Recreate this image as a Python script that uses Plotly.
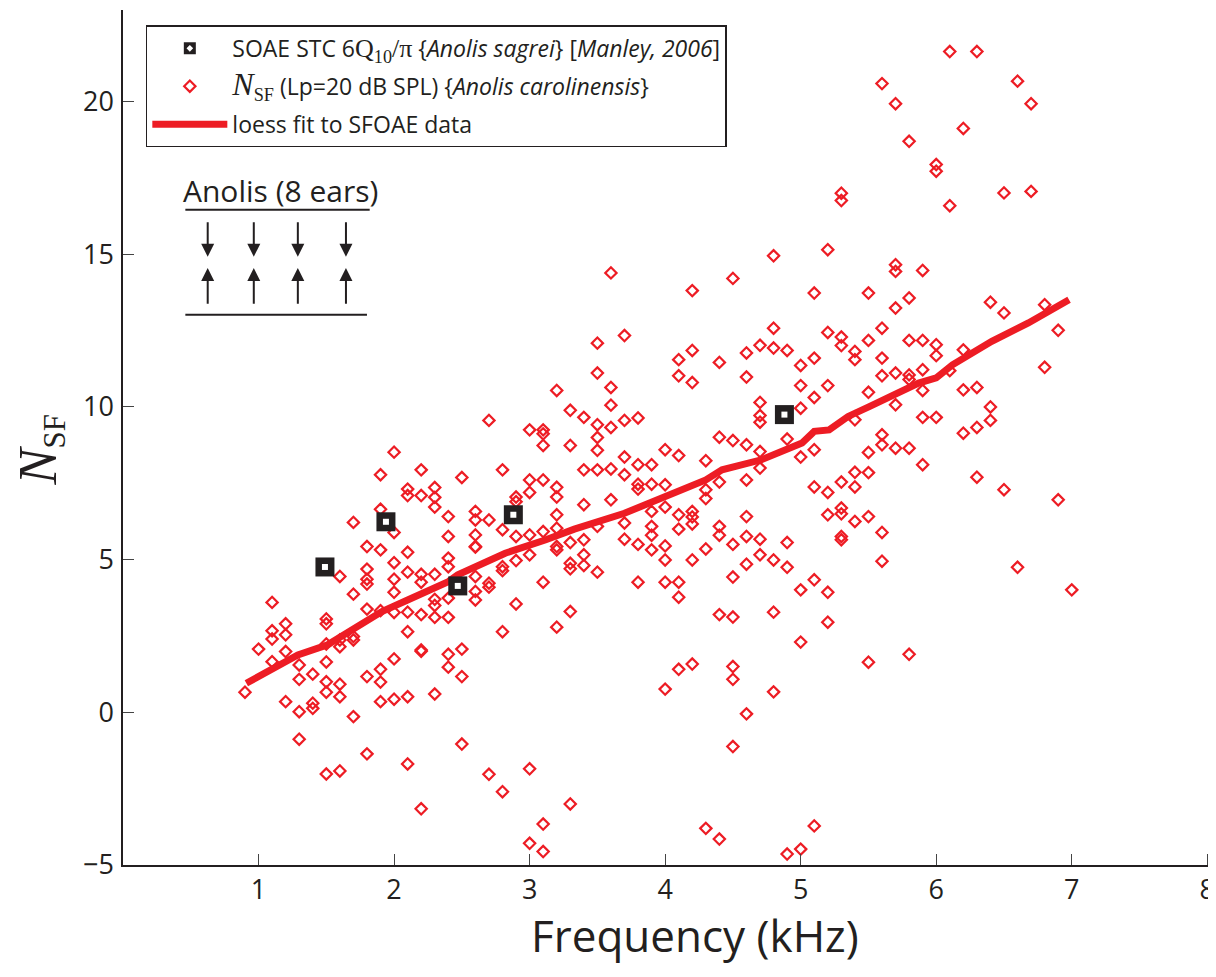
import plotly.graph_objects as go

# ---- SFOAE N_SF data (Anolis carolinensis), frequency in kHz ----
sf_cols = {
    0.9: [0.66],
    1.0: [2.07],
    1.1: [3.6, 2.67, 2.4, 1.66],
    1.2: [2.9, 2.54, 1.99, 0.35],
    1.3: [1.55, 1.08, 0.02, -0.88],
    1.4: [1.25, 0.3, 0.13],
    1.5: [3.06, 2.9, 2.24, 1.65, 1.0, 0.66, -2.02],
    1.6: [4.45, 2.37, 2.15, 0.92, 0.51, -1.92],
    1.7: [6.22, 3.87, 2.48, 2.37, -0.14],
    1.8: [5.43, 4.69, 4.36, 4.2, 3.38, 1.17, -1.36],
    1.9: [7.78, 6.65, 5.32, 3.33, 1.41, 0.99, 0.35],
    2.0: [8.52, 5.89, 4.9, 4.36, 3.93, 3.27, 1.75, 0.43],
    2.1: [7.31, 7.1, 5.24, 4.59, 3.28, 2.64, 0.51, -1.69],
    2.2: [7.94, 7.1, 4.52, 4.26, 3.2, 2.04, 2.0, -3.16],
    2.3: [7.36, 7.04, 6.72, 4.52, 3.7, 3.5, 3.11, 0.6],
    2.4: [6.41, 5.76, 5.05, 4.77, 3.74, 3.11, 1.9, 1.48],
    2.5: [7.69, 2.07, 1.17, -1.04],
    2.6: [6.58, 6.3, 5.81, 5.43, 5.41, 4.45, 3.96, 3.68],
    2.7: [9.56, 6.3, 4.23, 4.1, -2.03],
    2.8: [7.94, 5.98, 4.77, 4.64, 2.64, -2.6],
    2.9: [7.05, 6.9, 5.76, 4.97, 3.55],
    3.0: [9.25, 7.61, 7.2, 5.81, 5.16, -1.85, -4.29],
    3.1: [9.25, 9.12, 8.74, 7.61, 5.92, 4.26, -3.66, -4.56],
    3.2: [10.54, 7.37, 7.05, 6.47, 6.03, 5.43, 5.32, 2.79],
    3.3: [9.89, 8.74, 5.56, 4.88, 4.7, 3.3, -3.0],
    3.4: [9.66, 7.94, 6.8, 5.65, 5.16, 4.81],
    3.5: [12.09, 11.11, 9.42, 9.0, 8.58, 7.94, 6.09, 4.59],
    3.6: [14.39, 10.64, 10.06, 9.33, 7.97, 6.96],
    3.7: [12.34, 9.56, 8.36, 7.78, 6.2, 5.67],
    3.8: [9.64, 8.11, 7.47, 7.31, 5.5, 4.26],
    3.9: [8.11, 7.47, 6.58, 6.09, 5.8, 5.32],
    4.0: [8.6, 7.45, 6.72, 5.45, 4.99, 4.26, 0.76],
    4.1: [11.55, 11.02, 8.41, 6.47, 6.0, 4.26, 3.77, 1.41],
    4.2: [13.81, 11.85, 10.8, 6.58, 6.4, 6.17, 4.99, 1.58],
    4.3: [8.24, 7.29, 7.0, 5.35, -3.8],
    4.4: [11.46, 9.01, 7.54, 6.09, 5.8, 3.2, -4.15],
    4.5: [14.21, 8.9, 5.5, 4.43, 3.12, 1.5, 1.08, -1.12],
    4.6: [11.77, 10.98, 8.76, 7.61, 6.41, 5.76, 4.85, -0.05],
    4.7: [12.02, 10.15, 9.72, 9.5, 8.54, 8.0, 5.67, 5.16],
    4.8: [14.95, 12.58, 11.93, 4.99, 3.28, 0.67],
    4.9: [11.85, 8.95, 5.56, 4.75, -4.64],
    5.0: [11.36, 10.7, 9.96, 8.36, 4.01, 2.3, -4.48],
    5.1: [13.73, 11.6, 10.31, 8.6, 7.38, 4.34, -3.72],
    5.2: [15.15, 12.44, 10.7, 7.2, 6.47, 3.93, 2.95],
    5.3: [17.0, 16.76, 12.29, 12.01, 7.54, 6.69, 6.5, 5.76, 5.65],
    5.4: [11.82, 11.55, 9.58, 7.86, 7.38, 6.25],
    5.5: [13.73, 12.18, 10.48, 8.51, 7.85, 6.41, 1.64],
    5.6: [20.59, 12.58, 11.6, 11.02, 9.09, 8.76, 5.89, 4.95],
    5.7: [19.93, 14.66, 14.44, 13.24, 11.11, 10.07, 8.65],
    5.8: [18.7, 13.57, 12.18, 11.05, 10.9, 8.65, 1.9],
    5.9: [14.47, 12.18, 11.22, 10.54, 9.66, 8.11],
    6.0: [17.94, 17.72, 12.04, 11.68, 9.66],
    6.1: [21.64, 16.59, 11.19],
    6.2: [19.12, 11.87, 10.56, 9.14],
    6.3: [21.64, 10.64, 9.33, 7.7],
    6.4: [13.43, 10.0, 9.56],
    6.5: [17.01, 13.08, 7.29],
    6.6: [20.67, 4.75],
    6.7: [19.93, 17.06],
    6.8: [13.35, 11.3],
    6.9: [12.51, 6.96],
    7.0: [4.01],
}
sf_freq = [f for f, vals in sf_cols.items() for _ in vals]
sf_nsf = [v for vals in sf_cols.values() for v in vals]

# ---- SOAE STC (Anolis sagrei, Manley 2006) ----
soae_freq = [1.49, 1.94, 2.47, 2.88, 4.88]
soae_nsf = [4.76, 6.24, 4.14, 6.47, 9.75]

# ---- loess fit curve ----
loess_freq = [0.91, 1.11, 1.29, 1.51, 1.70, 1.91, 2.10, 2.30, 2.40, 2.47, 2.82, 3.12,
              3.33, 3.70, 3.95, 4.30, 4.42, 4.71, 5.01, 5.10, 5.21, 5.35, 5.51, 5.70,
              5.87, 6.00, 6.12, 6.41, 6.68, 6.98]
loess_nsf = [0.95, 1.44, 1.88, 2.21, 2.70, 3.30, 3.68, 4.07, 4.28, 4.50, 5.21, 5.65,
             6.00, 6.52, 6.98, 7.61, 7.94, 8.27, 8.82, 9.20, 9.25, 9.69, 10.02, 10.40,
             10.78, 10.95, 11.38, 12.15, 12.75, 13.51]

ink = "#231F20"
red = "#ED1C24"
serif = "Liberation Serif"
sans = "Open Sans"

soae_name = ('SOAE STC 6<span style="font-family:Liberation Serif;font-size:26px">'
             'Q<sub>10</sub>/π</span> {<i>Anolis sagrei</i>} [<i>Manley, 2006</i>]')
sf_name = ('<span style="font-family:Liberation Serif;font-size:32px"><i>N</i></span>'
           '<span style="font-family:Liberation Serif;font-size:26px"><sub>SF</sub></span> '
           '(Lp=20 dB SPL) {<i>Anolis carolinensis</i>}')

fig = go.Figure()

# legend entry for the SOAE squares (symbol with white centre)
fig.add_trace(go.Scatter(
    x=[None], y=[None], mode="markers", name=soae_name,
    marker=dict(symbol="square-dot", size=22, color=ink, line=dict(width=4, color="white")),
    legendgroup="a", legendrank=1,
))
fig.add_trace(go.Scatter(
    x=sf_freq, y=sf_nsf, mode="markers", name=sf_name,
    marker=dict(symbol="diamond-open", size=8.7, color=red, line=dict(width=2.2, color=red)),
    legendgroup="b", legendrank=2,
))
fig.add_trace(go.Scatter(
    x=loess_freq, y=loess_nsf, mode="lines",
    name="loess fit to SFOAE data",
    line=dict(color=red, width=7),
    legendgroup="c", legendrank=3,
))
# SOAE squares drawn on top: black square with a white square centre
fig.add_trace(go.Scatter(
    x=soae_freq, y=soae_nsf, mode="markers", showlegend=False, legendgroup="a",
    name="SOAE STC", marker=dict(symbol="square", size=19, color=ink, line=dict(width=0)),
))
fig.add_trace(go.Scatter(
    x=soae_freq, y=soae_nsf, mode="markers", showlegend=False, hoverinfo="skip",
    legendgroup="a",
    marker=dict(symbol="square", size=6, color="white", line=dict(width=0)),
))

# Anolis (8 ears) schematic
fig.add_annotation(x=1.16, y=17.1, xref="x", yref="y", text="Anolis (8 ears)",
                   showarrow=False, font=dict(family=sans, size=30, color=ink))
fig.add_shape(type="line", x0=0.46, x1=1.82, y0=16.46, y1=16.46,
              line=dict(color=ink, width=2))
fig.add_shape(type="line", x0=0.46, x1=1.80, y0=13.02, y1=13.02,
              line=dict(color=ink, width=2))
for xa in [0.625, 0.965, 1.29, 1.645]:
    fig.add_annotation(x=xa, y=14.92, ax=xa, ay=16.1, xref="x", yref="y",
                       axref="x", ayref="y", text="", showarrow=True,
                       arrowhead=2, arrowsize=1.3, arrowwidth=2, arrowcolor=ink)
    fig.add_annotation(x=xa, y=14.55, ax=xa, ay=13.33, xref="x", yref="y",
                       axref="x", ayref="y", text="", showarrow=True,
                       arrowhead=2, arrowsize=1.3, arrowwidth=2, arrowcolor=ink)

# axis titles
fig.add_annotation(x=4.22, y=-0.082, xref="x", yref="paper", yanchor="middle",
                   text="Frequency (kHz)", showarrow=False,
                   font=dict(family=sans, size=44, color=ink))
fig.add_annotation(x=-0.079, y=0.485, xref="paper", yref="paper", textangle=-90,
                   xshift=-31,
                   text='<i>N</i><span style="font-size:44px"><sub>SF</sub></span>',
                   showarrow=False,
                   font=dict(family=serif, size=54, color=ink))

fig.update_layout(
    width=1208, height=961,
    margin=dict(l=115, r=6, t=2, b=104),
    paper_bgcolor="white", plot_bgcolor="white",
    font=dict(family=sans, size=23, color=ink),
    showlegend=True,
    legend=dict(x=0.021, y=0.982, xanchor="left", yanchor="top",
                bgcolor="white", bordercolor=ink, borderwidth=1.5,
                font=dict(family=sans, size=23, color=ink),
                tracegroupgap=5, itemwidth=75),
    xaxis=dict(range=[0, 8.02], tickvals=[1, 2, 3, 4, 5, 6, 7, 8],
               ticks="inside", ticklen=11, tickwidth=1.2, tickcolor="#444",
               showline=True, linecolor=ink, linewidth=1.5,
               showgrid=False, zeroline=False, mirror=False,
               tickfont=dict(family=sans, size=27, color=ink)),
    yaxis=dict(range=[-5, 23.0], tickvals=[-5, 0, 5, 10, 15, 20],
               ticks="inside", ticklen=11, tickwidth=1.2, tickcolor="#444",
               showline=True, linecolor=ink, linewidth=1.5,
               showgrid=False, zeroline=False, mirror=False,
               ticklabelstandoff=2,
               tickfont=dict(family=sans, size=27, color=ink)),
)

fig.write_html("out.html")
